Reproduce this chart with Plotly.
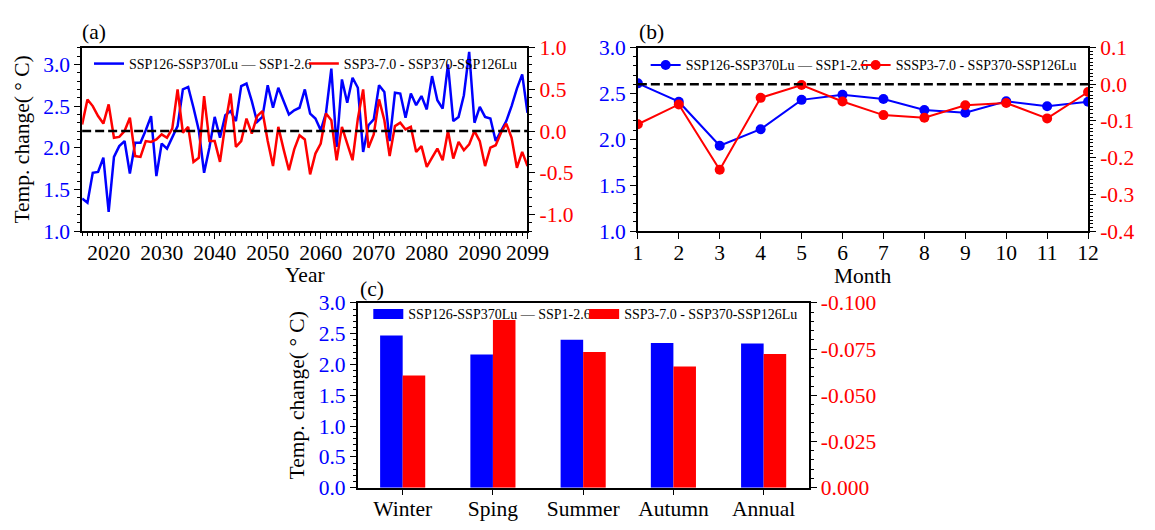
import plotly.graph_objects as go

# ---- data ---------------------------------------------------------------
years = list(range(2015, 2100))

annual_lu126 = [1.39, 1.34, 1.70, 1.71, 1.88, 1.23, 1.89, 2.02, 2.08, 1.69,
                2.06, 2.06, 2.21, 2.38, 1.66, 2.05, 1.99, 2.12, 2.26, 2.70,
                2.73, 2.48, 2.21, 1.70, 2.00, 2.37, 2.12, 2.39, 2.44, 2.32,
                2.74, 2.77, 2.56, 2.31, 2.37, 2.75, 2.48, 2.72, 2.55, 2.40,
                2.45, 2.48, 2.70, 2.41, 2.35, 2.21, 2.42, 2.95, 2.01, 2.82,
                2.54, 2.84, 2.72, 1.95, 2.27, 2.34, 2.75, 2.67, 2.08, 2.66,
                2.65, 2.36, 2.65, 2.51, 2.62, 2.46, 2.86, 2.57, 2.47, 3.00,
                2.32, 2.37, 2.63, 3.15, 2.30, 2.49, 2.37, 2.35, 2.08, 2.20,
                2.32, 2.50, 2.71, 2.88, 2.42]

annual_lu370 = [0.08, 0.38, 0.30, 0.18, 0.09, 0.32, -0.08, -0.07, 0.00, 0.16,
                -0.30, -0.31, -0.12, -0.13, -0.10, -0.04, -0.08, 0.03, 0.50, -0.02,
                0.05, -0.37, -0.32, 0.42, -0.12, -0.12, -0.37, 0.08, 0.45, -0.19,
                -0.12, 0.15, -0.03, 0.18, 0.24, -0.12, -0.42, 0.05, -0.22, -0.47,
                -0.22, -0.05, -0.10, -0.52, -0.27, -0.15, 0.21, 0.13, -0.35, 0.05,
                -0.15, -0.35, 0.15, 0.50, -0.20, -0.04, 0.38, 0.13, -0.30, 0.06,
                0.10, 0.02, 0.05, -0.25, -0.18, -0.43, -0.32, -0.21, -0.35, 0.00,
                -0.33, -0.13, -0.23, -0.16, 0.00, -0.12, -0.42, -0.20, -0.17, -0.02,
                0.09, -0.08, -0.44, -0.25, -0.42]

months = list(range(1, 13))
monthly_lu126 = [2.61, 2.41, 1.93, 2.11, 2.43, 2.485, 2.44, 2.32, 2.29, 2.415, 2.36, 2.41]
monthly_lu370 = [-0.109, -0.055, -0.233, -0.037, -0.002, -0.047, -0.084, -0.091,
                 -0.057, -0.051, -0.093, -0.021]

seasons = ["Winter", "Sping", "Summer", "Autumn", "Annual"]
season_lu126 = [2.47, 2.16, 2.40, 2.35, 2.34]
season_lu370 = [-0.0607, -0.0907, -0.0734, -0.0656, -0.0723]

name_126 = "SSP126-SSP370Lu — SSP1-2.6"
name_370 = "SSP3-7.0 - SSP370-SSP126Lu"
name_370_b = "SSSP3-7.0 - SSP370-SSP126Lu"

year_ticks = [2020, 2030, 2040, 2050, 2060, 2070, 2080, 2090, 2099]
temp_ticks_a = [1.0, 1.5, 2.0, 2.5, 3.0]
diff_ticks_a = [-1.0, -0.5, 0.0, 0.5, 1.0]
temp_ticks_b = [1.0, 1.5, 2.0, 2.5, 3.0]
diff_ticks_b = [-0.4, -0.3, -0.2, -0.1, 0.0, 0.1]
temp_ticks_c = [0.0, 0.5, 1.0, 1.5, 2.0, 2.5, 3.0]
diff_ticks_c = [0.0, -0.025, -0.05, -0.075, -0.1]

# ---- styling ------------------------------------------------------------
BLUE = "#0000FF"
RED = "#FF0000"
FONT = "Liberation Serif"
W, H = 1155, 530
TICK_SIZE = 21.5
TITLE_SIZE = 21.5

# panel frames in pixels (left, right, top, bottom)
A_BOX = (79, 535, 38.5, 230.5)
B_BOX = (648, 1109, 38.3, 230.5)
C_BOX = (361, 823, 305.7, 499.3)


def dom_x(box):
    return [box[0] / W, box[1] / W]


def dom_y(box):
    return [1 - box[3] / H, 1 - box[2] / H]


def fmt(vals, nd):
    # plain hyphen for negatives
    out = []
    for v in vals:
        s = f"{abs(v):.{nd}f}"
        out.append("-" + s if v < 0 else s)
    return out


tickfont = dict(family=FONT, size=TICK_SIZE, color="black")
bluefont = dict(family=FONT, size=TICK_SIZE, color=BLUE)
redfont = dict(family=FONT, size=TICK_SIZE, color=RED)
titlefont = dict(family=FONT, size=TITLE_SIZE, color="black")

axis_common = dict(showline=True, linecolor="black", linewidth=1.5, ticks="outside",
                   ticklen=6, tickwidth=1.2, tickcolor="black", showgrid=False,
                   zeroline=False)


def minor(step, start=0.0):
    return dict(tickmode="linear", tick0=start, dtick=step, ticks="outside",
                ticklen=3, tickwidth=1, tickcolor="black", showgrid=False)


fig = go.Figure()

# ---- panel (a): annual series -------------------------------------------
fig.add_trace(go.Scatter(x=years, y=annual_lu126, mode="lines", name=name_126,
                         line=dict(color=BLUE, width=2.5), xaxis="x", yaxis="y",
                         legend="legend"))
fig.add_trace(go.Scatter(x=years, y=annual_lu370, mode="lines", name=name_370,
                         line=dict(color=RED, width=2.5), xaxis="x", yaxis="y2",
                         legend="legend2"))

# ---- panel (b): monthly series ------------------------------------------
fig.add_trace(go.Scatter(x=months, y=monthly_lu126, mode="lines+markers", name=name_126,
                         line=dict(color=BLUE, width=2), marker=dict(size=10, color=BLUE),
                         xaxis="x2", yaxis="y3", legend="legend3"))
fig.add_trace(go.Scatter(x=months, y=monthly_lu370, mode="lines+markers", name=name_370_b,
                         line=dict(color=RED, width=2), marker=dict(size=10, color=RED),
                         xaxis="x2", yaxis="y4", legend="legend4"))

# ---- panel (c): seasonal bars -------------------------------------------
fig.add_trace(go.Bar(x=seasons, y=season_lu126, marker=dict(color=BLUE, line=dict(width=0)),
                     width=0.25, offset=-0.25, xaxis="x3", yaxis="y5", showlegend=False))
fig.add_trace(go.Bar(x=seasons, y=season_lu370, marker=dict(color=RED, line=dict(width=0)),
                     width=0.25, offset=0.0, xaxis="x3", yaxis="y6", showlegend=False))
# wide colour keys for the bar legend
fig.add_trace(go.Scatter(x=[None], y=[None], mode="lines", name=name_126,
                         line=dict(color=BLUE, width=10), xaxis="x3", yaxis="y5",
                         legend="legend5"))
fig.add_trace(go.Scatter(x=[None], y=[None], mode="lines", name=name_370,
                         line=dict(color=RED, width=10), xaxis="x3", yaxis="y6",
                         legend="legend6"))

dash_line = dict(color="black", width=2.5, dash="9px,4px")
shapes = [
    dict(type="line", xref="x domain", x0=0, x1=1, yref="y2", y0=0, y1=0, line=dash_line),
    dict(type="line", xref="x2 domain", x0=0, x1=1, yref="y4", y0=0, y1=0, line=dash_line),
]

legend_common = dict(orientation="h", bgcolor="rgba(0,0,0,0)", borderwidth=0,
                     font=dict(family=FONT, size=14, color="black"),
                     xanchor="left", yanchor="middle")


def legend_at(x_px, y_px):
    return dict(x=x_px / W, y=1 - y_px / H, **legend_common)


def label(text, x_px, y_px):
    return dict(text=text, x=x_px / W, y=1 - y_px / H, xref="paper", yref="paper",
                showarrow=False, font=titlefont, xanchor="center", yanchor="middle")


XLAB_SHIFT = -5  # pull bottom tick labels a little closer to the axis

fig.update_layout(
    width=W, height=H, margin=dict(l=0, r=0, t=0, b=0),
    paper_bgcolor="white", plot_bgcolor="white",
    font=dict(family=FONT, size=20, color="black"),
    shapes=shapes,
    # panel (a)
    xaxis=dict(domain=dom_x(A_BOX), anchor="y", range=[2015, 2099], mirror=True,
               tickmode="array", tickvals=year_ticks, ticktext=[str(v) for v in year_ticks],
               tickfont=tickfont, ticklabelstandoff=XLAB_SHIFT,
               minor=minor(1, 2015), **axis_common),
    yaxis=dict(domain=dom_y(A_BOX), anchor="x", range=[1.0, 3.2],
               tickmode="array", tickvals=temp_ticks_a, ticktext=fmt(temp_ticks_a, 1),
               tickfont=bluefont,
               title=dict(text="Temp. change( ° C)", font=titlefont, standoff=8),
               minor=minor(0.1, 1.0), **axis_common),
    yaxis2=dict(overlaying="y", anchor="x", side="right", range=[-1.2, 1.0],
                tickmode="array", tickvals=diff_ticks_a, ticktext=fmt(diff_ticks_a, 1),
                tickfont=redfont, minor=minor(0.1, 0.0), **axis_common),
    # panel (b)
    xaxis2=dict(domain=dom_x(B_BOX), anchor="y3", range=[1, 12], mirror=True,
                tickmode="array", tickvals=months, ticktext=[str(m) for m in months],
                tickfont=tickfont, ticklabelstandoff=XLAB_SHIFT, **axis_common),
    yaxis3=dict(domain=dom_y(B_BOX), anchor="x2", range=[1.0, 3.0],
                tickmode="array", tickvals=temp_ticks_b, ticktext=fmt(temp_ticks_b, 1),
                tickfont=bluefont, minor=minor(0.1, 1.0), **axis_common),
    yaxis4=dict(overlaying="y3", anchor="x2", side="right", range=[-0.4, 0.1],
                tickmode="array", tickvals=diff_ticks_b, ticktext=fmt(diff_ticks_b, 1),
                tickfont=redfont, minor=minor(0.01, 0.0), **axis_common),
    # panel (c)
    xaxis3=dict(domain=dom_x(C_BOX), anchor="y5", mirror=True, type="category",
                tickfont=tickfont, ticklabelstandoff=XLAB_SHIFT, **axis_common),
    yaxis5=dict(domain=dom_y(C_BOX), anchor="x3", range=[0, 3.0],
                tickmode="array", tickvals=temp_ticks_c, ticktext=fmt(temp_ticks_c, 1),
                tickfont=bluefont,
                title=dict(text="Temp. change( ° C)", font=titlefont, standoff=8),
                minor=minor(0.1, 0.0), **axis_common),
    yaxis6=dict(overlaying="y5", anchor="x3", side="right", range=[0, -0.1],
                tickmode="array", tickvals=diff_ticks_c, ticktext=fmt(diff_ticks_c, 3),
                tickfont=redfont, minor=minor(0.005, 0.0), **axis_common),
    # one legend per key so every entry sits where it belongs
    legend=legend_at(86, 55.5),
    legend2=legend_at(306, 55.5),
    legend3=legend_at(656, 57),
    legend4=legend_at(871, 57),
    legend5=legend_at(372, 317.7),
    legend6=legend_at(593, 317.7),
    annotations=[
        label("(a)", 91, 22),
        label("(b)", 662, 22),
        label("(c)", 376, 291),
        label("Year", (A_BOX[0] + A_BOX[1]) / 2, 277),
        label("Month", (B_BOX[0] + B_BOX[1]) / 2, 277.5),
    ],
    showlegend=True,
)

fig.write_html("out.html")
